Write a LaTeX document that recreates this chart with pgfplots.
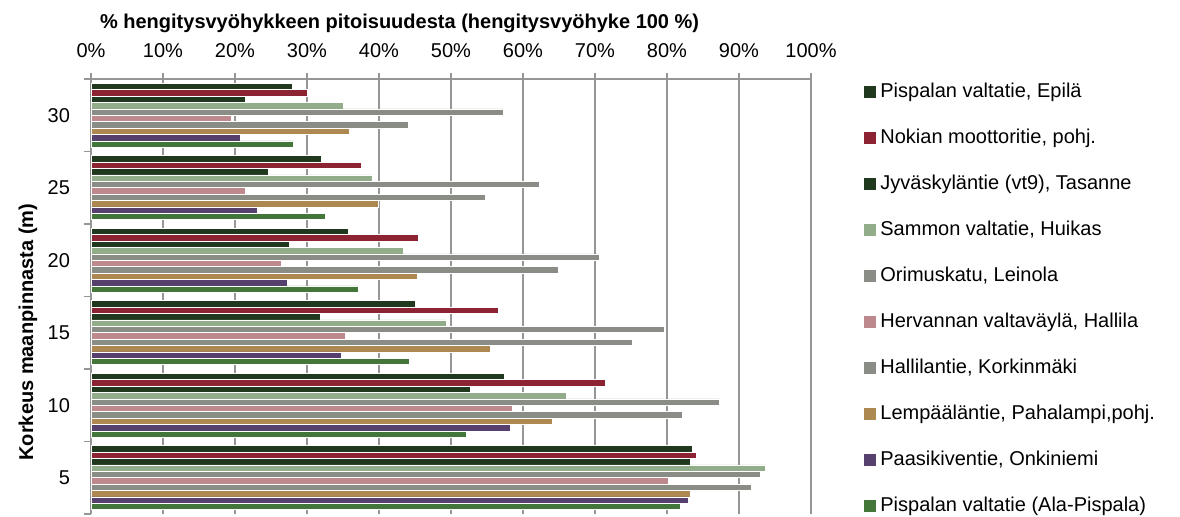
\documentclass[border=0pt]{standalone}
\usepackage{fontspec}
\setmainfont{Liberation Sans}
\usepackage{pgfplots}
\pgfplotsset{compat=1.18}
\definecolor{cA}{RGB}{32,56,29}
\definecolor{cB}{RGB}{139,35,50}
\definecolor{cC}{RGB}{32,56,29}
\definecolor{cD}{RGB}{146,173,138}
\definecolor{cE}{RGB}{138,141,134}
\definecolor{cF}{RGB}{190,137,140}
\definecolor{cG}{RGB}{138,141,134}
\definecolor{cH}{RGB}{173,136,80}
\definecolor{cI}{RGB}{85,64,110}
\definecolor{cJ}{RGB}{67,118,57}
\definecolor{gridc}{RGB}{150,150,150}
\begin{document}
\begin{tikzpicture}
\begin{axis}[name=ax, scale only axis, width=360pt, height=217.5pt,
  xbar, bar width=3.2pt,
  legend image code/.code={\fill[#1, draw=none] (0pt,-3pt) rectangle (6pt,3pt);},
  xmin=0, xmax=100, ymin=-0.5, ymax=5.5,
  axis x line*=top, axis y line*=left,
  axis line style={draw=gridc, line width=0.8pt},
  xtick={0,10,...,100},
  xticklabel={\pgfmathprintnumber{\tick}\%},
  /pgf/number format/assume math mode=true,
  xmajorgrids, ymajorgrids=false,
  grid style={draw=gridc, line width=0.8pt},
  tick align=outside,
  major tick length=3pt,
  xtick style={draw=gridc, line width=0.8pt},
  xticklabel style={yshift=4pt},
  ytick={0,...,5}, yticklabels={5,10,15,20,25,30},
  major y tick style={draw=none},
  minor ytick={-0.5,0.5,...,5.5}, minor tick length=3.5pt,
  minor y tick style={draw=gridc, line width=0.8pt},
  yticklabel style={xshift=-4pt},
  xlabel={\bfseries \% hengitysvyöhykkeen pitoisuudesta (hengitysvyöhyke 100 \%)},
  xlabel style={at={(axis description cs:0,1)}, anchor=base west, yshift=25.5pt, xshift=1pt},
  ylabel={\bfseries Korkeus maanpinnasta (m)},
  ylabel style={at={(axis description cs:-0.0875,0.418)}, anchor=center},
  legend cell align=left,
  legend style={at={(axis description cs:1.0736,1)}, anchor=north west, yshift=-1.5pt,
    draw=none, fill=none, inner sep=0pt, row sep=13pt, column sep=2pt,
    nodes={inner sep=0pt, text height=7.5pt, text depth=2.5pt}},
  every axis plot/.append style={draw=white, line width=0.3pt},
]
\addplot[fill=cA, bar shift=14.4pt] coordinates {(27.9,5) (32.0,4) (35.8,3) (45.0,2) (57.4,1) (83.5,0)};
\addplot[fill=cB, bar shift=11.2pt] coordinates {(30.1,5) (37.5,4) (45.5,3) (56.6,2) (71.4,1) (84.0,0)};
\addplot[fill=cC, bar shift=8.0pt] coordinates {(21.4,5) (24.6,4) (27.5,3) (31.8,2) (52.7,1) (83.3,0)};
\addplot[fill=cD, bar shift=4.8pt] coordinates {(35.1,5) (39.1,4) (43.4,3) (49.3,2) (66.0,1) (93.7,0)};
\addplot[fill=cE, bar shift=1.6pt] coordinates {(57.2,5) (62.2,4) (70.6,3) (79.6,2) (87.3,1) (93.0,0)};
\addplot[fill=cF, bar shift=-1.6pt] coordinates {(19.5,5) (21.5,4) (26.5,3) (35.3,2) (58.5,1) (80.2,0)};
\addplot[fill=cG, bar shift=-4.8pt] coordinates {(44.0,5) (54.8,4) (64.9,3) (75.2,2) (82.1,1) (91.7,0)};
\addplot[fill=cH, bar shift=-8.0pt] coordinates {(35.9,5) (39.9,4) (45.3,3) (55.5,2) (64.1,1) (83.3,0)};
\addplot[fill=cI, bar shift=-11.2pt] coordinates {(20.7,5) (23.1,4) (27.2,3) (34.7,2) (58.2,1) (82.9,0)};
\addplot[fill=cJ, bar shift=-14.4pt] coordinates {(28.1,5) (32.5,4) (37.1,3) (44.2,2) (52.1,1) (81.9,0)};
\legend{{Pispalan valtatie, Epilä}, {Nokian moottoritie, pohj.}, {Jyväskyläntie (vt9), Tasanne}, {Sammon valtatie, Huikas}, {Orimuskatu, Leinola}, {Hervannan valtaväylä, Hallila}, {Hallilantie, Korkinmäki}, {Lempääläntie, Pahalampi,pohj.}, {Paasikiventie, Onkiniemi}, {Pispalan valtatie (Ala-Pispala)}}
\end{axis}
\pgfresetboundingbox
\useasboundingbox (ax.south west) ++(-45.5pt,-1pt) rectangle ++(590pt,258pt);
\end{tikzpicture}
\end{document}
